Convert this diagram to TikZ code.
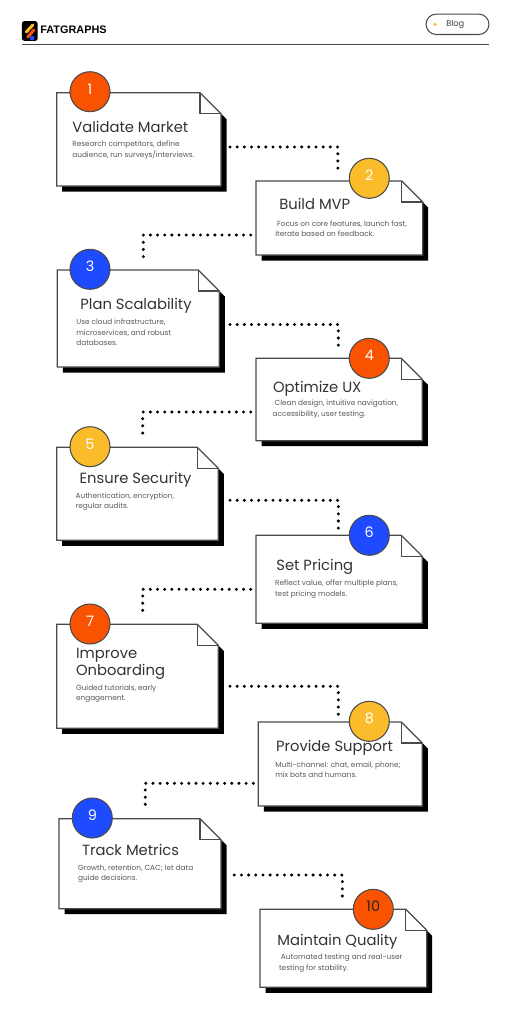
\documentclass[tikz,border=0pt]{standalone}
\usepackage{fontspec}
\setmainfont{Poppins}
\newfontfamily\logofont{Liberation Sans}
\usetikzlibrary{fit,positioning}
\definecolor{fgorange}{HTML}{F95200}
\definecolor{fgyellow}{HTML}{FBBC2C}
\definecolor{fgblue}{HTML}{1E4BFF}
\definecolor{fgline}{HTML}{4A4A4A}
% name, left, top, right, bottom
\newcommand{\notecard}[5]{%
  \coordinate (#1a) at (#2,#3);
  \coordinate (#1b) at (#4,#5);
  \node[cardarea, fit=(#1a)(#1b)] (#1) {};
  \fill[black] (#2+5.5,#5) -- (#2+5.5,#5+5.5) -- (#4+5.5,#5+5.5) -- (#4+5.5,#3+26.5) -- (#4,#3+21) -- cycle;
  \draw[cardline, fill=white] (#2,#3) -- (#4-21,#3) -- (#4,#3+21) -- (#4,#5) -- (#2,#5) -- cycle;
  \draw[cardline] (#4-21,#3) -- (#4-21,#3+21) -- (#4,#3+21);
}
\begin{document}
\begin{tikzpicture}[
x=0.02cm, y=-0.02cm,
cardarea/.style={inner sep=0pt, outer sep=0pt},
cardline/.style={draw=fgline, line width=0.7pt},
badge/.style={circle, draw=fgline, line width=0.6pt, minimum size=22.76pt, inner sep=0pt, text=white, text depth=3pt, font=\fontsize{8.2}{10}\selectfont},
cardtitle/.style={anchor=base west, inner sep=0pt, align=left, text=black!80, font=\fontsize{8.4}{8}\selectfont},
carddesc/.style={anchor=base west, inner sep=0pt, align=left, text=black!65, font=\fontsize{4.18}{5.8}\selectfont},
link/.style={line width=1.9pt, line cap=round, dash pattern=on 0pt off 4.08pt}
]
\useasboundingbox (0,0) rectangle (511,1024);

% header
\node[fill=black, rounded corners=1.5pt, minimum width=9pt, minimum height=11.3pt, inner sep=0pt] (logo) at (29.8,31) {};
\draw[fgyellow, line width=1.7pt, line cap=round] ([shift={(-3.5,1)}]logo.center) -- ([shift={(3,-6)}]logo.center);
\draw[fgorange, line width=1.7pt, line cap=round] ([shift={(-2,6)}]logo.center) -- ([shift={(4,-1)}]logo.center);
\fill[fgblue] ([shift={(2.3,7)}]logo.center) circle (2.4);
\node[anchor=west, inner sep=0pt, font=\logofont\bfseries\fontsize{6.2}{8}\selectfont] (brand) at (40,30) {FATGRAPHS};
\node[draw=fgline, line width=0.6pt, rounded corners=5.8pt, fill=white, minimum width=35.8pt, minimum height=11.6pt, inner sep=0pt] (blog) at (457.5,24.3) {};
\fill[fgyellow] (435,24.3) circle (1.7);
\node[anchor=west, inner sep=0pt, text=black!75, font=\fontsize{4.7}{6}\selectfont] (blogtext) at (446,24.7) {Blog};
\draw[fgline, line width=0.7pt] (22,44.5) -- (489,44.5);

% cards
\notecard{cardA}{56.7}{92.7}{221}{186}
\notecard{cardB}{256}{181}{422.7}{255}
\notecard{cardC}{57.3}{270}{219.3}{367}
\notecard{cardD}{256}{358.3}{422.3}{440.7}
\notecard{cardE}{56.7}{447.3}{218.3}{540.3}
\notecard{cardF}{256}{535.3}{422.3}{623.3}
\notecard{cardG}{56.7}{624.3}{218.3}{728.3}
\notecard{cardH}{258.3}{722}{422.3}{806}
\notecard{cardI}{59}{818.7}{221}{908.7}
\notecard{cardJ}{260}{909.3}{426.7}{987.3}

% badges
\node[badge, fill=fgorange] (numA) at (90,91.7) {1};
\node[badge, fill=fgyellow] (numB) at (369.3,178.3) {2};
\node[badge, fill=fgblue] (numC) at (90,269.3) {3};
\node[badge, fill=fgorange] (numD) at (369.3,358.3) {4};
\node[badge, fill=fgyellow] (numE) at (90,446.7) {5};
\node[badge, fill=fgblue] (numF) at (369.3,535.3) {6};
\node[badge, fill=fgorange] (numG) at (90,624) {7};
\node[badge, fill=fgyellow] (numH) at (369.3,721.3) {8};
\node[badge, fill=fgblue] (numI) at (92.3,818) {9};
\node[badge, fill=fgorange, text=black!85] (numJ) at (373.3,909.3) {10};

% titles
\node[cardtitle] (titleA) at (72,132.7) {Validate Market};
\node[cardtitle] (titleB) at (279,209.7) {Build MVP};
\node[cardtitle] (titleC) at (80,309.3) {Plan Scalability};
\node[cardtitle] (titleD) at (272.7,392.3) {Optimize UX};
\node[cardtitle] (titleE) at (79.3,483.7) {Ensure Security};
\node[cardtitle] (titleF) at (276,570.7) {Set Pricing};
\node[cardtitle] (titleG) at (75.7,675.3) {Improve\\Onboarding};
\node[cardtitle] (titleH) at (275.7,751.3) {Provide Support};
\node[cardtitle] (titleI) at (81.7,855) {Track Metrics};
\node[cardtitle] (titleJ) at (277,945) {Maintain Quality};

% descriptions
\node[carddesc] (textA) at (72,157) {Research competitors, define\\audience, run surveys/interviews.};
\node[carddesc] (textB) at (275,236.7) {\hspace*{1pt}Focus on core features, launch fast,\\iterate based on feedback.};
\node[carddesc] (textC) at (76,345.3) {Use cloud infrastructure,\\microservices, and robust\\databases.};
\node[carddesc] (textD) at (272.3,416) {\hspace*{1.1pt}Clean design, intuitive navigation,\\accessibility, user testing.};
\node[carddesc] (textE) at (75.3,508.3) {Authentication, encryption,\\regular audits.};
\node[carddesc] (textF) at (274.7,596) {Reflect value, offer multiple plans,\\test pricing models.};
\node[carddesc] (textG) at (75.7,700.3) {Guided tutorials, early\\engagement.};
\node[carddesc] (textH) at (275,777.7) {Multi-channel: chat, email, phone;\\mix bots and humans.};
\node[carddesc] (textI) at (77.7,880.7) {Growth, retention, CAC; let data\\guide decisions.};
\node[carddesc] (textJ) at (278.7,970) {\hspace*{1.1pt}Automated testing and real-user\\testing for stability.};

% connectors
\draw[link] ([shift={(9,7.6)}]cardA.east) -| ([shift={(-1.5,-6)}]cardB.north);
\draw[link] ([shift={(-5.3,17)}]cardB.west) -| ([shift={(5,-7.3)}]cardC.north);
\draw[link] ([shift={(10.7,6)}]cardC.east) -| ([shift={(-0.8,-6)}]cardD.north);
\draw[link] ([shift={(-5.3,12.5)}]cardD.west) -| ([shift={(5.2,-7.3)}]cardE.north);
\draw[link] ([shift={(11.7,6.5)}]cardE.east) -| ([shift={(-0.8,-7)}]cardF.north);
\draw[link] ([shift={(-5.3,10)}]cardF.west) -| ([shift={(5.2,-7.6)}]cardG.north);
\draw[link] ([shift={(11.7,10)}]cardG.east) -| ([shift={(-2,-7.7)}]cardH.north);
\draw[link] ([shift={(-5,19.3)}]cardH.west) -| ([shift={(5.3,-7.7)}]cardI.north);
\draw[link] ([shift={(13.3,11.3)}]cardI.east) -| ([shift={(-1,-7)}]cardJ.north);
\end{tikzpicture}
\end{document}
